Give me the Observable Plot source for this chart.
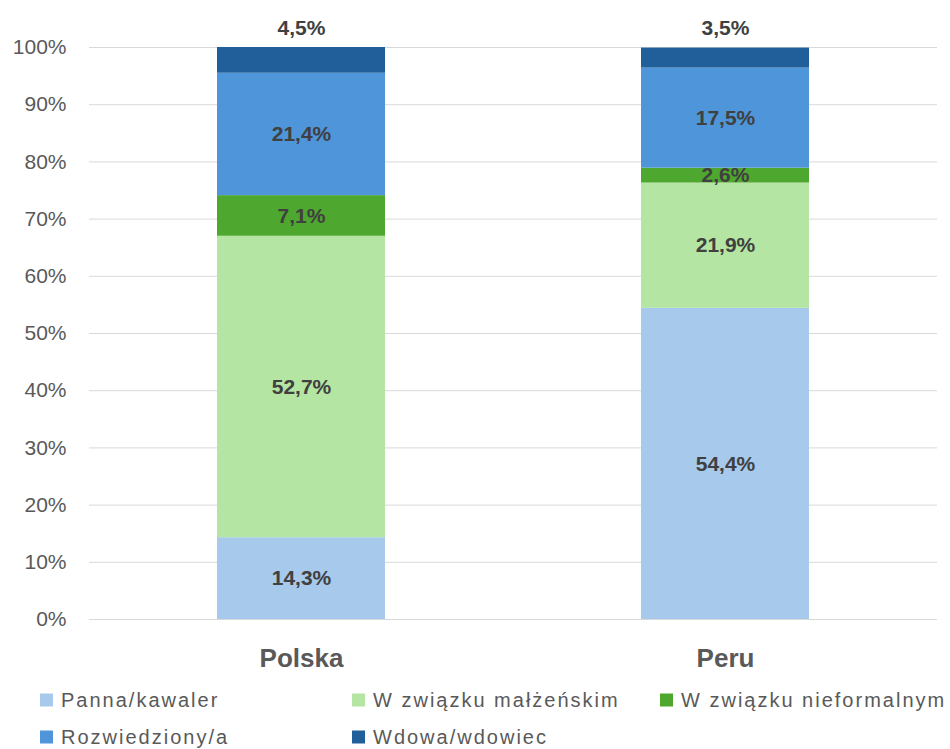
<!DOCTYPE html>
<html lang="pl">
<head>
<meta charset="utf-8">
<script src="https://cdn.jsdelivr.net/npm/d3@7"></script>
<script src="https://cdn.jsdelivr.net/npm/@observablehq/plot@0.6"></script>
<style>
  html, body { margin: 0; padding: 0; background: #ffffff; }
  #chart { width: 950px; font-family: "Liberation Sans", Arial, sans-serif; }
  .legend { position: relative; width: 950px; height: 69px; color: #595959;
            font-size: 20px; letter-spacing: 2px; }
  .legend .item { position: absolute; display: flex; align-items: center; white-space: nowrap;
                  transform: translateY(-50%); }
  .legend .sw { width: 13px; height: 13px; margin-right: 8px; flex: none; }
</style>
</head>
<body>
<div id="chart"></div>
<script>
// Stan cywilny – udział procentowy
const countries = ["Polska", "Peru"];
const statuses = ["Panna/kawaler", "W związku małżeńskim", "W związku nieformalnym", "Rozwiedziony/a", "Wdowa/wdowiec"];
const polskaValues = [14.3, 52.7, 7.1, 21.4, 4.5];
const peruValues = [54.4, 21.9, 2.6, 17.5, 3.5];
const statusColors = ["#a6c9ec", "#b4e5a2", "#4ea72e", "#4e95d9", "#215f9a"];
const yTicks = [0, 10, 20, 30, 40, 50, 60, 70, 80, 90, 100];

const seriesByCountry = [polskaValues, peruValues];
const rows = countries.flatMap((country, ci) =>
  statuses.map((status, si) => ({country, status, value: seriesByCountry[ci][si]}))
);

const topStatus = statuses[statuses.length - 1];
const fmt = v => v.toFixed(1).replace(".", ",") + "%";
const font = "Liberation Sans, Arial, sans-serif";
const grey = "#595959";

const plot = Plot.plot({
  width: 950,
  height: 680,
  marginTop: 47,
  marginBottom: 61,
  marginLeft: 89,
  marginRight: 13,
  style: {fontFamily: font, color: grey, background: "#ffffff"},
  x: {domain: countries, paddingInner: 0.604, paddingOuter: 0.302, label: null},
  y: {domain: [0, 100], label: null},
  color: {domain: statuses, range: statusColors},
  marks: [
    Plot.gridY(yTicks, {stroke: "#d9d9d9", strokeOpacity: 1, strokeWidth: 1}),
    Plot.barY(rows, {x: "country", y: "value", fill: "status"}),
    Plot.text(rows, Plot.stackY({
      x: "country",
      y: "value",
      z: "status",
      text: d => d.status === topStatus ? null : fmt(d.value),
      fontSize: 21,
      fontWeight: "bold",
      fill: "#404040"
    })),
    // etykiety najwyższego segmentu nad słupkami
    Plot.text(rows.filter(d => d.status === topStatus), {
      x: "country",
      frameAnchor: "top",
      lineAnchor: "middle",
      dy: -19,
      text: d => fmt(d.value),
      fontSize: 21,
      fontWeight: "bold",
      fill: "#404040"
    }),
    Plot.axisY(yTicks, {
      tickSize: 0,
      tickPadding: 23,
      tickFormat: d => d + "%",
      fontSize: 21,
      fill: grey,
      label: null
    }),
    Plot.axisX({
      tickSize: 0,
      tickPadding: 29,
      fontSize: 26,
      fontWeight: "bold",
      fill: grey,
      label: null
    })
  ]
});

const chart = document.getElementById("chart");
chart.appendChild(plot);

// Legenda w dwóch wierszach, trzy kolumny
const legend = document.createElement("div");
legend.className = "legend";
const colLeft = [40, 352, 660];
const rowMid = [20, 57];
statuses.forEach((status, i) => {
  const item = document.createElement("div");
  item.className = "item";
  item.style.left = colLeft[i % 3] + "px";
  item.style.top = rowMid[Math.floor(i / 3)] + "px";
  const sw = document.createElement("span");
  sw.className = "sw";
  sw.style.background = statusColors[i];
  const label = document.createElement("span");
  label.textContent = status;
  item.appendChild(sw);
  item.appendChild(label);
  legend.appendChild(item);
});
chart.appendChild(legend);
</script>
</body>
</html>
